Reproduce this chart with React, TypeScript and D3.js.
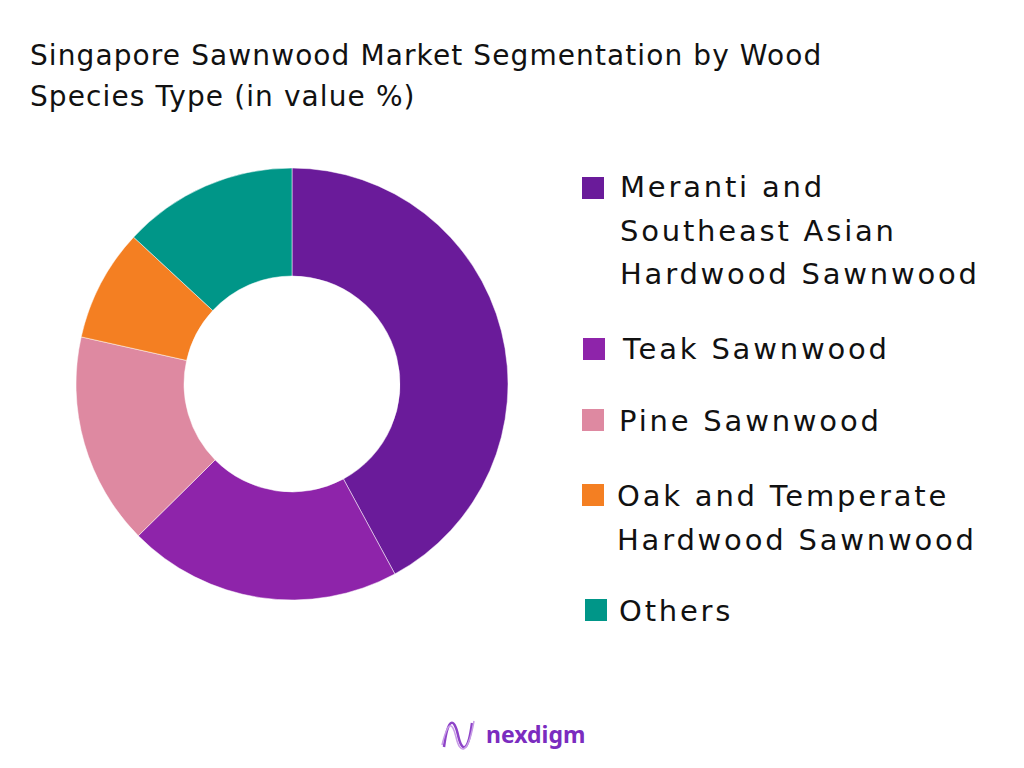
import React from "react";
import * as d3 from "d3";

const categories = [
  "Meranti and Southeast Asian Hardwood Sawnwood",
  "Teak Sawnwood",
  "Pine Sawnwood",
  "Oak and Temperate Hardwood Sawnwood",
  "Others",
];
const values = [42.1, 20.5, 15.9, 8.4, 13.1];
const colors = ["#6A1B9A", "#8E24AA", "#DE89A1", "#F47F22", "#009688"];
const legendLines = [
  ["Meranti and", "Southeast Asian", "Hardwood Sawnwood"],
  ["Teak Sawnwood"],
  ["Pine Sawnwood"],
  ["Oak and Temperate", "Hardwood Sawnwood"],
  ["Others"],
];
const titleLines = [
  "Singapore Sawnwood Market Segmentation by Wood",
  "Species Type (in value %)",
];

const W = 1024;
const H = 768;
const cx = 292;
const cy = 384;
const outerR = 216;
const innerR = 108;

const legendRows = [
  { sq: [582, 177], text: [620, 197] },
  { sq: [583, 338], text: [623, 359] },
  { sq: [582, 409], text: [619, 431] },
  { sq: [582, 484], text: [617, 506] },
  { sq: [585, 599], text: [619, 621] },
];

export default function App() {
  const pie = d3
    .pie<number>()
    .sort(null)
    .value((d) => d);
  const arcs = pie(values);
  const arcGen = d3.arc<d3.PieArcDatum<number>>().innerRadius(innerR).outerRadius(outerR);
  const font = "'DejaVu Sans', sans-serif";

  return (
    <svg
      width={W}
      height={H}
      style={{ position: "absolute", left: 0, top: 0, background: "#fff" }}
    >
      <rect width={W} height={H} fill="#fff" />
      {titleLines.map((t, i) => (
        <text
          key={i}
          x={30}
          y={65 + i * 41}
          fontFamily={font}
          fontSize={28}
          letterSpacing={1.1}
          fill="#111"
        >
          {t}
        </text>
      ))}
      <g transform={`translate(${cx},${cy})`}>
        {arcs.map((a, i) => (
          <path key={categories[i]} d={arcGen(a) || ""} fill={colors[i]} stroke="#fff" strokeWidth={0.5} />
        ))}
      </g>
      {legendRows.map((r, i) => (
        <g key={categories[i]}>
          <rect x={r.sq[0]} y={r.sq[1]} width={22} height={22} fill={colors[i]} />
          {legendLines[i].map((l, j) => (
            <text
              key={j}
              x={r.text[0]}
              y={r.text[1] + j * 43.5}
              fontFamily={font}
              fontSize={29}
              letterSpacing={2.8}
              fill="#111"
            >
              {l}
            </text>
          ))}
        </g>
      ))}
      <g transform="translate(440,717)">
        <path
          d="M4 30 C 8 0, 14 0, 18 18 C 22 36, 28 36, 32 6"
          fill="none"
          stroke="#8E44C8"
          strokeWidth={2.5}
        />
        <path
          d="M2 28 C 8 4, 12 4, 16 20 C 20 38, 28 38, 34 4"
          fill="none"
          stroke="#C79BE6"
          strokeWidth={1.5}
        />
      </g>
      <text
        x={486}
        y={743}
        fontFamily="'Noto Sans', sans-serif"
        fontSize={23}
        fontWeight={700}
        fill="#7B2CBF"
      >
        nexdigm
      </text>
    </svg>
  );
}
